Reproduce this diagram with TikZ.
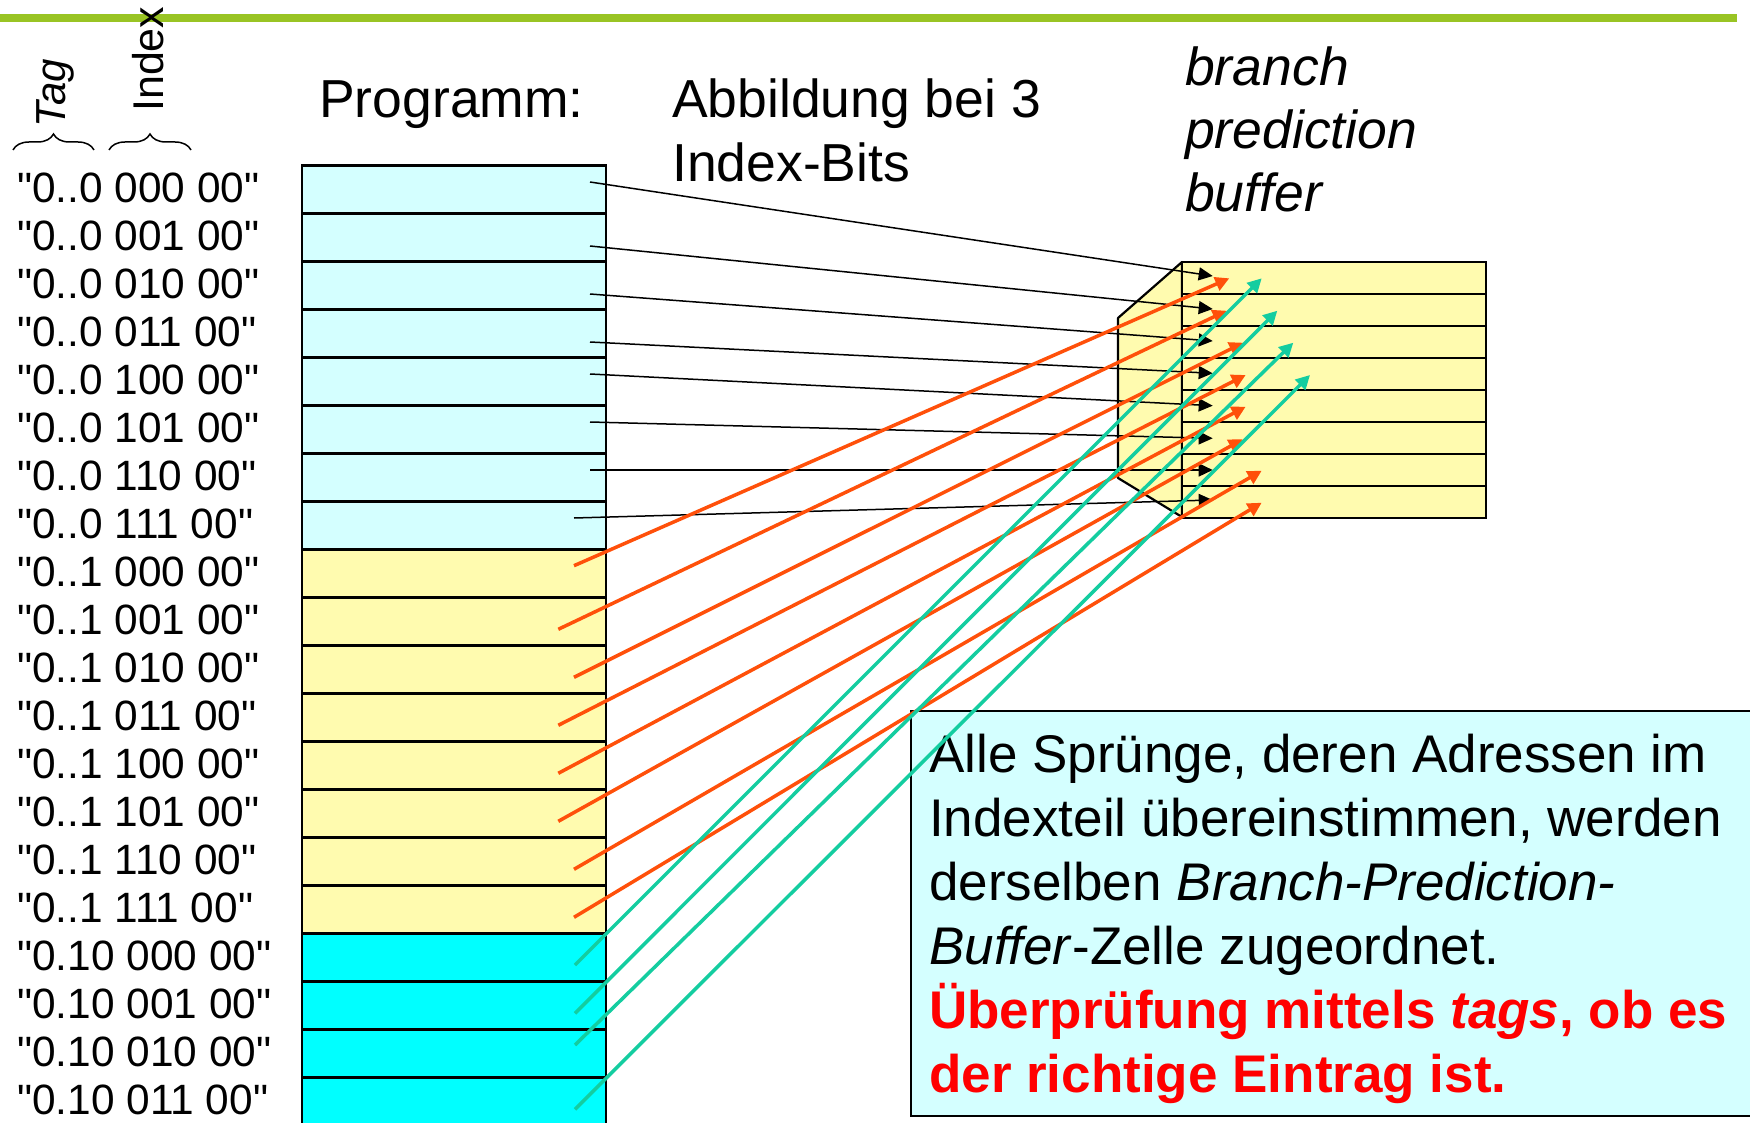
\documentclass[tikz,border=0pt]{standalone}
\usepackage{fontspec}
\setmainfont{Liberation Sans}[Ligatures=TeXOff]
\usetikzlibrary{arrows.meta,decorations.pathreplacing}
\definecolor{topgreen}{RGB}{153,196,36}
\definecolor{lcyan}{RGB}{212,255,255}
\definecolor{lyellow}{RGB}{255,251,175}
\definecolor{fcyan}{RGB}{0,255,255}
\definecolor{arrorange}{RGB}{255,80,10}
\definecolor{arrteal}{RGB}{20,205,160}
\definecolor{txtred}{RGB}{255,0,0}
\begin{document}
\begin{tikzpicture}[x=1pt,y=-1pt,
  prow/.style={draw, line width=2.5pt, minimum width=304pt, minimum height=48pt, inner sep=0pt, outer sep=0pt, anchor=north west},
  brow/.style={draw, fill=lyellow, line width=2.2pt, minimum width=304pt, minimum height=32pt, inner sep=0pt, outer sep=0pt, anchor=north west},
  lbl/.style={anchor=base west, inner sep=0pt, font=\fontsize{42.4}{50}\selectfont},
  head/.style={anchor=base west, inner sep=0pt, font=\fontsize{53.5}{64}\selectfont},
  rottxt/.style={anchor=base west, inner sep=0pt, rotate=90, font=\fontsize{43}{50}\selectfont},
  ctxt/.style={anchor=base west, inner sep=0pt, font=\fontsize{53}{64}\selectfont},
  blackarr/.style={line width=1.5pt, -{Triangle[length=14pt,width=13pt]}},
  orangearr/.style={draw=arrorange, line width=3.5pt, -{Triangle[length=14pt,width=14pt]}, arrorange},
  tealarr/.style={draw=arrteal, line width=3.5pt, -{Triangle[length=14pt,width=14pt]}, arrteal},
  bracestyle/.style={decorate, decoration={brace, amplitude=16pt}, line width=1.5pt}
]
\useasboundingbox (0,0) rectangle (1750,1123);

% top green rule
\fill[topgreen] (0,14) rectangle (1737,22);

% Tag / Index
\node[rottxt, font=\fontsize{42}{50}\selectfont\itshape] (tag) at (65,128) {Tag};
\node[rottxt] (idx) at (163,112) {Index};
\draw[bracestyle] (13,150) -- (94,150);
\draw[bracestyle] (109,150) -- (191,150);

% headings
\node[head] (prog) at (319,117.3) {Programm:};
\node[head] (abb1) at (672,117.3) {Abbildung bei 3};
\node[head] (abb2) at (672,181.7) {Index-Bits};
\node[head, font=\fontsize{53.5}{64}\selectfont\itshape] (bpb1) at (1185,85.5) {branch};
\node[head, font=\fontsize{53.5}{64}\selectfont\itshape] (bpb2) at (1185,148.5) {prediction};
\node[head, font=\fontsize{53.5}{64}\selectfont\itshape] (bpb3) at (1185,211.5) {buffer};

% program rows
\foreach \i in {0,...,7} {\node[prow, fill=lcyan] (p\i) at (302,{165.7+48*\i}) {};}
\foreach \i in {8,...,15} {\node[prow, fill=lyellow] (p\i) at (302,{165.7+48*\i}) {};}
\foreach \i in {16,...,19} {\node[prow, fill=fcyan] (p\i) at (302,{165.7+48*\i}) {};}

% address labels
\node[lbl] (l0) at (17,202.7) {"0..0 000 00"};
\node[lbl] (l1) at (17,250.7) {"0..0 001 00"};
\node[lbl] (l2) at (17,298.7) {"0..0 010 00"};
\node[lbl] (l3) at (17,346.7) {"0..0 011 00"};
\node[lbl] (l4) at (17,394.7) {"0..0 100 00"};
\node[lbl] (l5) at (17,442.7) {"0..0 101 00"};
\node[lbl] (l6) at (17,490.7) {"0..0 110 00"};
\node[lbl] (l7) at (17,538.7) {"0..0 111 00"};
\node[lbl] (l8) at (17,586.7) {"0..1 000 00"};
\node[lbl] (l9) at (17,634.7) {"0..1 001 00"};
\node[lbl] (l10) at (17,682.7) {"0..1 010 00"};
\node[lbl] (l11) at (17,730.7) {"0..1 011 00"};
\node[lbl] (l12) at (17,778.7) {"0..1 100 00"};
\node[lbl] (l13) at (17,826.7) {"0..1 101 00"};
\node[lbl] (l14) at (17,874.7) {"0..1 110 00"};
\node[lbl] (l15) at (17,922.7) {"0..1 111 00"};
\node[lbl] (l16) at (17,970.7) {"0.10 000 00"};
\node[lbl] (l17) at (17,1018.7) {"0.10 001 00"};
\node[lbl] (l18) at (17,1066.7) {"0.10 010 00"};
\node[lbl] (l19) at (17,1114.7) {"0.10 011 00"};

% branch prediction buffer
\draw[fill=lyellow, line width=2.2pt, line join=round] (1182,262) -- (1118,318) -- (1118,478) -- (1182,517) -- cycle;
\foreach \i in {0,...,7} {\node[brow] (b\i) at (1182,{262+32*\i}) {};}

% callout
\node[draw, fill=lcyan, line width=2pt, minimum width=860pt, minimum height=405pt, inner sep=0pt, anchor=north west] (callout) at (910,710) {};
\node[ctxt] (c1) at (929,772.7) {Alle Sprünge, deren Adressen im};
\node[ctxt] (c2) at (929,836.7) {Indexteil übereinstimmen, werden};
\node[ctxt] (c3) at (929,900.7) {derselben \textit{Branch-Prediction-}};
\node[ctxt] (c4) at (929,964.7) {\textit{Buffer}-Zelle zugeordnet.};
\node[ctxt, text=txtred, font=\fontsize{53}{64}\selectfont\bfseries] (c5) at (929,1028.7) {Überprüfung mittels \textit{tags}, ob es};
\node[ctxt, text=txtred, font=\fontsize{53}{64}\selectfont\bfseries] (c6) at (929,1092.7) {der richtige Eintrag ist.};

% arrow endpoints
\coordinate (s0) at (590,182);   \coordinate (e0) at (1212.7,276);
\coordinate (s1) at (590,246);   \coordinate (e1) at (1212.7,309);
\coordinate (s2) at (590,294);   \coordinate (e2) at (1212.7,341);
\coordinate (s3) at (590,342);   \coordinate (e3) at (1212.7,373.3);
\coordinate (s4) at (590,374);   \coordinate (e4) at (1212.7,405.7);
\coordinate (s5) at (590,422);   \coordinate (e5) at (1212.7,438.3);
\coordinate (s6) at (590,470);   \coordinate (e6) at (1212.7,470);
\coordinate (s7) at (574,518);   \coordinate (e7) at (1212.7,500);

\coordinate (s8) at (574,565.7);    \coordinate (e8) at (1229.3,278.3);
\coordinate (s9) at (558.3,629.3);  \coordinate (e9) at (1226.7,310.7);
\coordinate (s10) at (574,677.3);   \coordinate (e10) at (1243.3,342.7);
\coordinate (s11) at (558.3,725.3); \coordinate (e11) at (1245.7,375);
\coordinate (s12) at (558.3,773.3); \coordinate (e12) at (1245.7,406.7);
\coordinate (s13) at (558.3,821.3); \coordinate (e13) at (1242.7,439.3);
\coordinate (s14) at (574,869.3);   \coordinate (e14) at (1261.7,470.7);
\coordinate (s15) at (574,917.3);   \coordinate (e15) at (1261.7,502.7);

\coordinate (s16) at (575,965);     \coordinate (e16) at (1261.7,278.3);
\coordinate (s17) at (575,1013.3);  \coordinate (e17) at (1277.3,310.7);
\coordinate (s18) at (575,1045);    \coordinate (e18) at (1293.3,342.7);
\coordinate (s19) at (575,1109.3);  \coordinate (e19) at (1310,375);

\foreach \i in {0,...,7} {\draw[blackarr] (s\i) -- (e\i);}
\foreach \i in {8,...,15} {\draw[orangearr] (s\i) -- (e\i);}
\foreach \i in {16,...,19} {\draw[tealarr] (s\i) -- (e\i);}
\end{tikzpicture}
\end{document}
